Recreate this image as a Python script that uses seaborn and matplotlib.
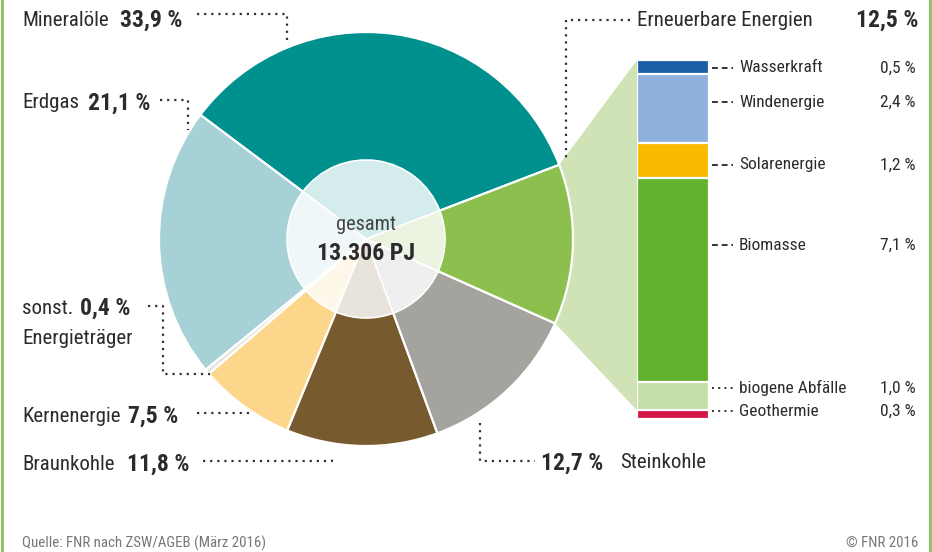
import numpy as np
import pandas as pd
import matplotlib
matplotlib.use("Agg")
import matplotlib.pyplot as plt
import matplotlib.colors as mcolors
from matplotlib import font_manager as fm
from matplotlib.patches import Polygon
import seaborn as sns

# ---------------- data ----------------
sources = ["Mineralöle", "Erdgas", "sonst. Energieträger", "Kernenergie",
           "Braunkohle", "Steinkohle", "Erneuerbare Energien"]
shares = [33.9, 21.1, 0.4, 7.5, 11.8, 12.7, 12.5]
share_labels = ["33,9 %", "21,1 %", "0,4 %", "7,5 %", "11,8 %", "12,7 %", "12,5 %"]
source_colors = ["#00918f", "#a6d1d6", "#e4e6df", "#fcd68a", "#775a2d", "#a4a39e", "#8cbf4e"]

renew = ["Wasserkraft", "Windenergie", "Solarenergie", "Biomasse", "biogene Abfälle", "Geothermie"]
renew_shares = [0.5, 2.4, 1.2, 7.1, 1.0, 0.3]
renew_labels = ["0,5 %", "2,4 %", "1,2 %", "7,1 %", "1,0 %", "0,3 %"]
renew_colors = ["#1b5fa6", "#8fb0dc", "#fbb900", "#62b22f", "#c6dfa8", "#d4174a"]

total_label = "13.306 PJ"
source_note = "Quelle: FNR nach ZSW/AGEB (März 2016)"
copyright_note = "© FNR 2016"

# ---------------- style ----------------
sns.set_theme(style="white")
plt.rcParams["font.family"] = ["Roboto", "DejaVu Sans"]


def find_condensed(bold):
    best = None
    for f in fm.fontManager.ttflist:
        key = (f.name + " " + f.fname + " " + str(f.stretch)).lower()
        if not ("condensed" in key or "narrow" in key):
            continue
        if "semi" in key or "extra" in key or "ultra" in key:
            continue
        if "italic" in f.fname.lower() or "oblique" in f.fname.lower() or f.style != "normal":
            continue
        if "mono" in key or "serif" in key.replace("sans-serif", ""):
            continue
        w = f.weight if isinstance(f.weight, int) else 400
        if bold and w < 600:
            continue
        if not bold and w >= 600:
            continue
        if bold and w > 750:
            continue
        if not bold and w < 350:
            continue
        score = 0
        for i, pref in enumerate(["liberation sans narrow", "roboto condensed", "open sans condensed",
                                  "noto sans", "dejavu sans"]):
            if pref in key:
                score = 10 - i
                break
        if best is None or score > best[0]:
            best = (score, f.fname)
    return best[1] if best else None


reg_file = find_condensed(False)
bold_file = find_condensed(True)
CONDENSED = reg_file is not None
if CONDENSED:
    FP = fm.FontProperties(fname=reg_file)
    FPB = fm.FontProperties(fname=bold_file) if bold_file else fm.FontProperties(fname=reg_file, weight="bold")
    NS, PS, SS, CS = 15.0, 17.0, 12.5, 10.7
else:
    FP = fm.FontProperties(family=["Roboto", "DejaVu Sans"])
    FPB = fm.FontProperties(family=["Roboto", "DejaVu Sans"], weight="bold")
    NS, PS, SS, CS = 12.3, 14.0, 10.8, 9.0

W, H = 932, 552
fig = plt.figure(figsize=(W / 100, H / 100), dpi=100)
fig.patch.set_facecolor("white")
ax = fig.add_axes([0, 0, 1, 1])


def Y(p):
    return H - p


TXT = "#2b2b2b"
cx, cy, R, r_in = 366, Y(239), 207, 79

# ---- pie ----
wedges, _ = ax.pie(shares, colors=source_colors, startangle=21, counterclock=True,
                   radius=R, center=(cx, cy),
                   wedgeprops=dict(edgecolor="white", linewidth=1.6))


def lighten(c, a=0.17):
    rgb = np.array(mcolors.to_rgb(c))
    return tuple(1 - a * (1 - rgb))


inner_colors = [lighten(c) for c in source_colors]
ax.pie(shares, colors=inner_colors, startangle=21, counterclock=True,
       radius=r_in, center=(cx, cy),
       wedgeprops=dict(edgecolor="white", linewidth=1.2))

# ---- renewable stacked bar (seaborn) ----
bar_left, bar_w, bar_top, bar_bot = 637, 72, 60, 419
bax = fig.add_axes([bar_left / W, (H - bar_bot) / H, bar_w / W, (bar_bot - bar_top) / H])
total_renew = sum(renew_shares)
bottom_up = list(zip(renew[::-1], renew_shares[::-1], renew_colors[::-1]))
cum = np.cumsum([s for _, s, _ in bottom_up])
for (name, s, col), c in sorted(zip(bottom_up, cum), key=lambda t: -t[1]):
    d = pd.DataFrame({"g": ["EE"], "v": [c]})
    sns.barplot(data=d, x="g", y="v", color=col, saturation=1, width=1.0,
                edgecolor="white", linewidth=1.6, ax=bax)
bax.set_xlim(-0.5, 0.5)
bax.set_ylim(0, total_renew)
bax.axis("off")

# connecting band between pie slice and bar
ee = wedges[-1]
t1, t2 = np.deg2rad(ee.theta1), np.deg2rad(ee.theta2)
px_per = (bar_bot - bar_top) / total_renew
p_low = (cx + R * np.cos(t1), cy + R * np.sin(t1))
p_high = (cx + R * np.cos(t2), cy + R * np.sin(t2))
band = Polygon([p_high, (bar_left, Y(bar_top)),
                (bar_left, Y(bar_bot) + renew_shares[-1] * px_per), p_low],
               closed=True, facecolor="#cfe3b6", edgecolor="none", zorder=0)
ax.add_patch(band)

ax.set_xlim(0, W)
ax.set_ylim(0, H)
ax.set_aspect("equal")
ax.axis("off")


def T(x, y, s, bold=False, size=None, ha="left", color=TXT):
    ax.text(x, Y(y), s, ha=ha, va="center", fontproperties=(FPB if bold else FP),
            fontsize=(size if size else (PS if bold else NS)), color=color)


# ---- centre text ----
T(cx, 224, "gesamt", size=NS - 0.3, ha="center", color="#444444")
T(cx, 253, total_label, bold=True, size=PS + 0.2, ha="center")

dot = dict(color="#333333", linewidth=1.6, linestyle=(0, (1, 2.2)), solid_capstyle="round")

# Mineralöle
T(22, 20, sources[0]); T(120, 20, share_labels[0], bold=True)
ax.plot([197, 287, 287], [Y(14), Y(14), Y(43)], **dot)
# Erdgas
T(22, 103, sources[1]); T(88, 103, share_labels[1], bold=True)
ax.plot([160, 188, 188], [Y(100), Y(100), Y(130)], **dot)
# sonst.
T(22, 308, "sonst."); T(80, 308, share_labels[2], bold=True)
T(22, 339, "Energieträger")
ax.plot([148, 163, 163, 210], [Y(306), Y(306), Y(374), Y(374)], **dot)
# Kernenergie
T(22, 416, sources[3]); T(128, 416, share_labels[3], bold=True)
ax.plot([197, 250], [Y(413), Y(413)], **dot)
# Braunkohle
T(22, 464, sources[4]); T(127, 464, share_labels[4], bold=True)
ax.plot([203, 332, 332], [Y(461), Y(461), Y(455)], **dot)
# Steinkohle
ax.plot([480, 480, 535], [Y(423), Y(461), Y(461)], **dot)
T(541, 463, share_labels[5], bold=True); T(620, 463, sources[5])
# Erneuerbare
ax.plot([630, 566, 566], [Y(20), Y(20), Y(158)], **dot)
T(637, 20, sources[6]); T(918, 20, share_labels[6], bold=True, ha="right")

# renewable labels
label_y = [68, 102, 165, 245, 388, 411]
for i, (name, val, yy) in enumerate(zip(renew, renew_labels, label_y)):
    ls = (0, (3, 2)) if i < 4 else (0, (1, 2.2))
    ax.plot([712, 733], [Y(yy), Y(yy)], color="#333333", linewidth=1.4, linestyle=ls)
    T(739, yy, name, size=SS)
    T(916, yy, val, size=SS, ha="right")

# footer
T(22, 543, source_note, size=CS, color="#777777")
T(918, 543, copyright_note, size=CS, ha="right", color="#777777")

# green frame lines
ax.plot([2, 2], [0, H], color="#8cbf5a", linewidth=2)
ax.plot([929.5, 929.5], [0, H], color="#8cbf5a", linewidth=2)

fig.savefig("out.png", dpi=100, facecolor="white")
